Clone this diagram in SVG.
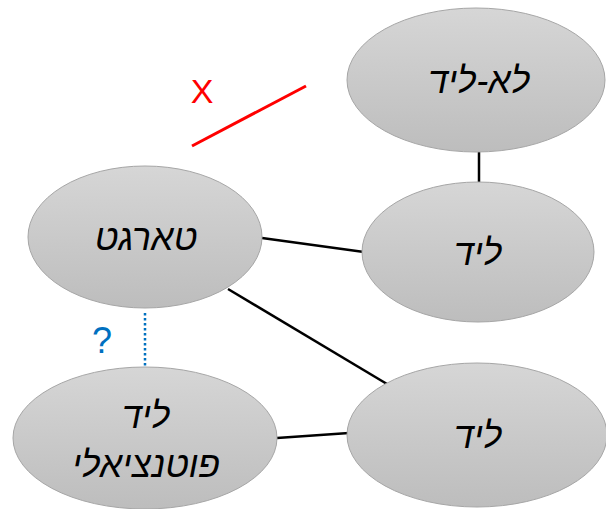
<svg xmlns="http://www.w3.org/2000/svg" width="606" height="509" viewBox="0 0 606 509">
<defs>
<linearGradient id="g" x1="0" y1="0" x2="0" y2="1">
<stop offset="0" stop-color="#d6d6d6"/>
<stop offset="1" stop-color="#bdbdbd"/>
</linearGradient>
<style>
.n{fill:url(#g);stroke:#a6a6a6;stroke-width:1}
.t{font-family:"Liberation Sans","DejaVu Sans",sans-serif;font-style:italic;font-size:36px;fill:#000;text-anchor:middle}
.c{stroke:#000;stroke-width:2.5;fill:none}
</style>
</defs>
<rect width="606" height="509" fill="#fff"/>
<g id="connectors">
<line class="c" x1="479" y1="152" x2="479" y2="182"/>
<line class="c" x1="262" y1="238" x2="364" y2="252"/>
<line class="c" x1="228" y1="289" x2="387" y2="384"/>
<line class="c" x1="277" y1="438" x2="349" y2="433"/>
<line x1="145" y1="313" x2="145" y2="367" stroke="#0070c0" stroke-width="2.5" stroke-dasharray="2.5,2.5"/>
<line x1="192" y1="146" x2="306" y2="86" stroke="#ff0000" stroke-width="3"/>
</g>
<g id="notlead">
<ellipse class="n" cx="476" cy="80" rx="129" ry="72"/>
<text class="t" x="479" y="93">לא-ליד</text>
</g>
<g id="lead1">
<ellipse class="n" cx="478" cy="252" rx="116" ry="70"/>
<text class="t" x="478" y="265">ליד</text>
</g>
<g id="target">
<ellipse class="n" cx="145" cy="237" rx="117" ry="71"/>
<text class="t" x="146" y="250">טארגט</text>
</g>
<g id="potential">
<ellipse class="n" cx="145" cy="438" rx="132" ry="71"/>
<text class="t" x="146" y="428">ליד</text>
<text class="t" x="146" y="477">פוטנציאלי</text>
</g>
<g id="lead2">
<ellipse class="n" cx="477" cy="435" rx="130" ry="72"/>
<text class="t" x="478" y="448">ליד</text>
</g>
<text x="202" y="103" font-family="Liberation Sans,sans-serif" font-size="34" fill="#ff0000" text-anchor="middle">X</text>
<text x="102" y="353" font-family="Liberation Sans,sans-serif" font-size="36" fill="#0070c0" text-anchor="middle">?</text>
</svg>
